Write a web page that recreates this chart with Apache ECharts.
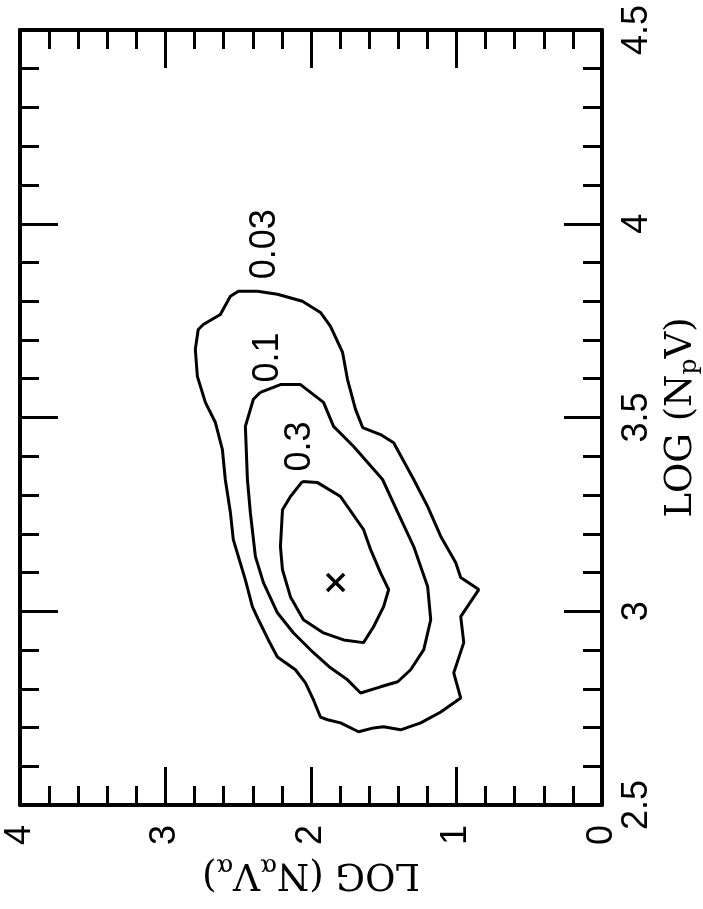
<!DOCTYPE html>
<html>
<head>
<meta charset="utf-8">
<script src="https://cdn.jsdelivr.net/npm/echarts@6/dist/echarts.min.js"></script>
<style>
html,body{margin:0;padding:0;background:#fff;}
#chart{width:703px;height:909px;}
</style>
</head>
<body>
<div id="chart"></div>
<script>
// Axis ranges (horizontal: LOG(N_alpha V_alpha), vertical: LOG(N_p V))
const alphaRange = [0, 4];
const alphaInterval = 1;
const npvRange = [2.5, 4.5];
const npvInterval = 0.5;

// Contour levels and their label anchor points [alpha, npv]
const contourLevels = ['0.03', '0.1', '0.3'];
const contourLabelPos = [[2.313, 3.947], [2.293, 3.655], [2.072, 3.425]];

// Contour 0.03 (outer)
const contour003 = [
  [2.231,3.818],[2.059,3.800],[1.935,3.771],[1.866,3.735],[1.783,3.668],[1.749,3.598],
  [1.694,3.521],[1.645,3.474],[1.522,3.456],[1.432,3.435],[1.294,3.340],[1.198,3.270],
  [1.108,3.193],[1.005,3.125],[0.971,3.087],[0.847,3.056],[0.971,2.986],[0.950,2.919],
  [1.019,2.841],[0.971,2.776],[1.108,2.740],[1.246,2.712],[1.384,2.694],[1.501,2.702],
  [1.570,2.699],[1.673,2.689],[1.797,2.712],[1.886,2.720],[1.935,2.727],[1.983,2.771],
  [2.038,2.815],[2.107,2.849],[2.231,2.882],[2.293,2.926],[2.361,2.978],[2.403,3.012],
  [2.451,3.081],[2.499,3.141],[2.534,3.185],[2.554,3.255],[2.589,3.340],[2.609,3.417],
  [2.657,3.487],[2.726,3.539],[2.781,3.606],[2.795,3.676],[2.775,3.727],[2.740,3.740],
  [2.623,3.766],[2.554,3.813],[2.499,3.826],[2.368,3.826],[2.231,3.818]
];

// Contour 0.1 (middle)
const contour01 = [
  [2.348,3.565],[2.210,3.585],[2.072,3.585],[1.914,3.539],[1.845,3.477],[1.707,3.425],
  [1.508,3.340],[1.404,3.255],[1.294,3.167],[1.198,3.063],[1.177,2.978],[1.225,2.901],
  [1.315,2.849],[1.404,2.818],[1.522,2.805],[1.659,2.789],[1.749,2.823],[1.866,2.854],
  [1.983,2.893],[2.120,2.944],[2.231,2.996],[2.327,3.074],[2.382,3.141],[2.417,3.255],
  [2.437,3.340],[2.451,3.477],[2.396,3.547],[2.348,3.565]
];

// Contour 0.3 (inner)
const contour03 = [
  [2.059,3.335],[1.955,3.332],[1.797,3.296],[1.639,3.211],[1.590,3.159],[1.522,3.099],
  [1.466,3.056],[1.501,3.012],[1.570,2.960],[1.639,2.919],[1.776,2.926],[1.914,2.944],
  [2.052,2.978],[2.141,3.037],[2.196,3.107],[2.210,3.167],[2.196,3.262],[2.141,3.296],
  [2.059,3.335]
];

// Best-fit point (x marker)
const bestFit = [1.831, 3.074];

const BLACK = '#000';
const tickFont = 'Liberation Sans, Arial, sans-serif';
const titleFont = 'DejaVu Serif, Liberation Serif, serif';

function contourSeries(data) {
  return {
    type: 'line', data: data, showSymbol: false, symbol: 'none', smooth: false,
    lineStyle: {color: BLACK, width: 3, opacity: 1}, silent: true, z: 3, clip: false
  };
}

const axisLineStyle = {show: true, onZero: false, lineStyle: {color: BLACK, width: 4}};
const tickCfg = {show: true, inside: true, length: 38, lineStyle: {color: BLACK, width: 3}};
const minorCfg = {show: true, splitNumber: 5, length: 19, lineStyle: {color: BLACK, width: 3}};

const chart = echarts.init(document.getElementById('chart'), null, {renderer: 'canvas'});
chart.setOption({
  animation: false,
  backgroundColor: '#fff',
  grid: {left: 20, right: 101, top: 30, bottom: 104, containLabel: false, outerBoundsMode: 'none'},
  xAxis: [
    {
      type: 'value', position: 'bottom', min: alphaRange[0], max: alphaRange[1], interval: alphaInterval,
      inverse: true,
      axisLine: axisLineStyle, axisTick: tickCfg, minorTick: minorCfg,
      splitLine: {show: false},
      axisLabel: {show: true, rotate: 90, margin: 20, color: BLACK, fontFamily: tickFont, fontSize: 36,
        showMinLabel: true, showMaxLabel: true, hideOverlap: false},
      name: 'LOG (N{s|α}V{s|α})', nameLocation: 'middle', nameGap: 48, nameRotate: 180,
      nameTextStyle: {color: BLACK, fontFamily: titleFont, fontSize: 37,
        rich: {s: {fontFamily: titleFont, fontSize: 25, color: BLACK, padding: [16, 0, 0, 0]}}}
    },
    {
      type: 'value', position: 'top', min: alphaRange[0], max: alphaRange[1], interval: alphaInterval,
      inverse: true,
      axisLine: axisLineStyle, axisTick: tickCfg, minorTick: minorCfg,
      splitLine: {show: false}, axisLabel: {show: false}
    }
  ],
  yAxis: [
    {
      type: 'value', position: 'right', min: npvRange[0], max: npvRange[1], interval: npvInterval,
      axisLine: axisLineStyle, axisTick: tickCfg, minorTick: minorCfg,
      splitLine: {show: false},
      axisLabel: {show: true, rotate: 90, margin: 17, color: BLACK, fontFamily: tickFont, fontSize: 36,
        showMinLabel: true, showMaxLabel: true, hideOverlap: false},
      name: 'LOG (N{s|p}V)', nameLocation: 'middle', nameGap: 58, nameRotate: 90,
      nameTextStyle: {color: BLACK, fontFamily: titleFont, fontSize: 37,
        rich: {s: {fontFamily: titleFont, fontSize: 25, color: BLACK, padding: [16, 0, 0, 0]}}}
    },
    {
      type: 'value', position: 'left', min: npvRange[0], max: npvRange[1], interval: npvInterval,
      axisLine: axisLineStyle, axisTick: tickCfg, minorTick: minorCfg,
      splitLine: {show: false}, axisLabel: {show: false}
    }
  ],
  series: [
    contourSeries(contour003),
    contourSeries(contour01),
    contourSeries(contour03),
    {
      type: 'scatter', data: [bestFit], symbol: 'path://M0,0L10,10M10,0L0,10', symbolSize: 17,
      itemStyle: {color: 'rgba(0,0,0,0)', borderColor: BLACK, borderWidth: 3.5, opacity: 1},
      silent: true, z: 4
    },
    {
      type: 'scatter', symbolSize: 0, silent: true, z: 5,
      itemStyle: {opacity: 1},
      data: contourLevels.map((lv, i) => ({name: lv, value: contourLabelPos[i]})),
      label: {show: true, position: 'inside', rotate: 90, formatter: p => p.name, opacity: 1,
        color: BLACK, fontFamily: tickFont, fontSize: 36, textBorderWidth: 0}
    }
  ]
});
</script>
</body>
</html>
